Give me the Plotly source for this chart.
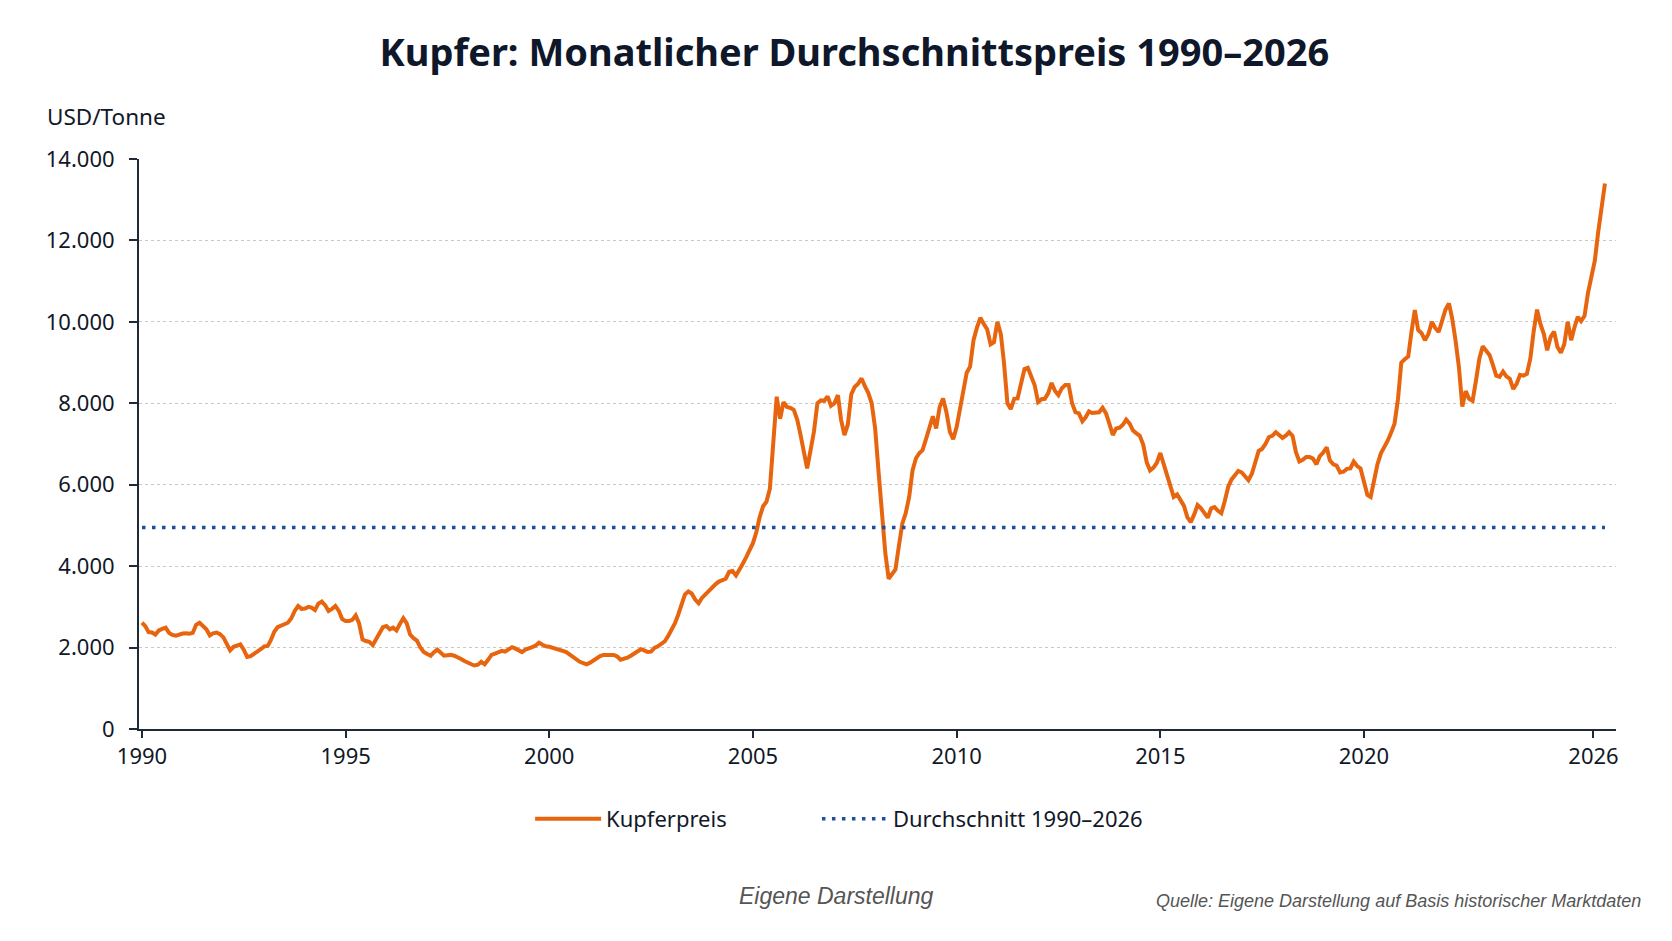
import plotly.graph_objects as go
import pandas as pd

# Monthly average copper price (USD/t)
p_1990s = [
    2610, 2520, 2380, 2370, 2320, 2420, 2460, 2490, 2360, 2310, 2290, 2320,
    2345, 2350, 2340, 2360, 2560, 2610, 2540, 2450, 2300, 2350, 2370, 2330,
    2250, 2080, 1930, 2020, 2060, 2080, 1950, 1770, 1790, 1840, 1900, 1960,
    2030, 2040, 2180, 2390, 2500, 2530, 2560, 2610, 2720, 2900, 3020, 2950,
    2960, 3000, 2980, 2920, 3080, 3130, 3040, 2900, 2950, 3020, 2900, 2700,
    2650, 2650, 2680, 2790, 2600, 2200, 2160, 2140, 2060, 2200, 2380, 2500,
    2530, 2450, 2490, 2420, 2580, 2720, 2600, 2320, 2230, 2170, 2000, 1890,
    1840, 1800, 1880, 1950, 1880, 1800, 1810, 1820, 1800, 1770, 1720, 1670,
    1620, 1590, 1560, 1580, 1650, 1590, 1700, 1820, 1850, 1880, 1920, 1900,
    1960, 2010, 1980, 1920, 1890, 1950, 1970, 2010, 2050, 2120, 2070, 2030,
]
p_2000s = [
    2020, 2000, 1970, 1940, 1920, 1890, 1830, 1750, 1700, 1650, 1620, 1590,
    1630, 1690, 1740, 1790, 1820, 1830, 1820, 1820, 1780, 1700, 1720, 1750,
    1800, 1850, 1900, 1960, 1930, 1890, 1900, 1990, 2030, 2080, 2150, 2280,
    2420, 2600, 2800, 3080, 3300, 3380, 3330, 3180, 3090, 3220, 3310, 3400,
    3500, 3560, 3620, 3670, 3690, 3860, 3880, 3770, 3900, 4060, 4220, 4400,
    4570, 4850, 5200, 5470, 5580, 5900, 7100, 8160, 7620, 8030, 7910, 7890,
    7840, 7600, 7250, 6800, 6400, 6850, 7300, 8000, 8070, 8060, 8170, 7940,
    8000, 8200, 7600, 7220, 7480, 8220, 8400, 8480, 8610, 8420, 8250, 8000,
    7380, 6300, 5240, 4320, 3690, 3810, 3920, 4500, 5050, 5300, 5700, 6350,
    6650, 6780, 6850, 7120, 7420, 7680, 7380, 7900, 8120, 7780, 7300, 7120,
]
p_2010s = [
    7420, 7880, 8400, 8750, 8900, 9550, 9850, 10100, 9950, 9820, 9450, 9500,
    10000, 9700, 9000, 8000, 7860, 8110, 8120, 8480, 8840, 8870, 8660, 8450,
    8030, 8100, 8110, 8250, 8500, 8300, 8200, 8370, 8450, 8450, 8000, 7780,
    7750, 7560, 7650, 7800, 7760, 7770, 7780, 7890, 7750, 7500, 7220, 7380,
    7400, 7480, 7600, 7500, 7330, 7260, 7200, 6980, 6550, 6350, 6420, 6540,
    6780, 6500, 6260, 5950, 5700, 5760, 5640, 5480, 5200, 5080, 5270, 5500,
    5420, 5320, 5190, 5420, 5450, 5360, 5300, 5600, 5950, 6130, 6230, 6340,
    6300, 6180, 6110, 6270, 6550, 6830, 6880, 7000, 7170, 7200, 7290, 7220,
    7150, 7210, 7290, 7200, 6800, 6570, 6610, 6680, 6680, 6640, 6500, 6700,
    6790, 6920, 6600, 6500, 6470, 6300, 6320, 6390, 6400, 6570, 6460, 6400,
]
p_2020s = [
    6100, 5750, 5700, 6100, 6500, 6770, 6920, 7080, 7280, 7500, 8100, 9000,
    9080, 9150, 9730, 10290, 9800, 9720, 9550, 9700, 10000, 9850, 9750, 10050,
    10300, 10450, 10100, 9550, 8900, 7920, 8300, 8110, 8060, 8550, 9100, 9400,
    9280, 9180, 8950, 8680, 8650, 8780, 8660, 8600, 8350, 8480, 8700, 8680,
    8720, 9100, 9750, 10300, 9950, 9700, 9300, 9630, 9760, 9380, 9240, 9450,
    10000, 9550, 9850, 10120, 10020, 10150, 10700, 11050, 11500, 12200, 12850, 13400,
]
durchschnitt = 4950

tick_dates = ["1990-01-01", "1995-01-01", "2000-01-01", "2005-01-01",
              "2010-01-01", "2015-01-01", "2020-01-01", "2025-08-20"]
tick_labels = ["1990", "1995", "2000", "2005", "2010", "2015", "2020", "2026"]

values = p_1990s + p_2000s + p_2010s + p_2020s
dates = pd.date_range("1990-01-01", periods=len(values), freq="MS")

ORANGE = "#e8650f"
BLUE = "#1f4e9c"
DARK = "#111827"
BASE_FONT = "Noto Sans, Open Sans, sans-serif"

fig = go.Figure()
fig.add_trace(go.Scatter(
    x=dates, y=values, mode="lines", name="Kupferpreis", legend="legend",
    line=dict(color=ORANGE, width=4), hoverinfo="skip"))
fig.add_trace(go.Scatter(
    x=[dates[0], dates[-1]], y=[durchschnitt, durchschnitt], mode="lines",
    name="Durchschnitt 1990–2026", legend="legend2",
    line=dict(color=BLUE, width=3.5, dash="3.5px,6.5px"), hoverinfo="skip"))

legend_common = dict(
    orientation="h", xanchor="left", y=-0.158, yanchor="middle",
    itemwidth=66, font=dict(family=BASE_FONT, size=22, color=DARK),
    bgcolor="rgba(0,0,0,0)")

fig.update_layout(
    width=1672, height=941,
    margin=dict(l=139, r=56, t=159, b=212),
    paper_bgcolor="white", plot_bgcolor="white",
    separators=",.",
    font=dict(family=BASE_FONT, size=22, color=DARK),
    title=dict(
        text="<b>Kupfer: Monatlicher Durchschnittspreis 1990–2026</b>",
        x=0.511, xref="container", xanchor="center",
        y=1 - 53 / 941, yref="container", yanchor="middle",
        font=dict(family=BASE_FONT, size=38, color="#0f172a")),
    showlegend=True,
    legend=dict(x=0.2648, **legend_common),
    legend2=dict(x=0.459, **legend_common),
    xaxis=dict(
        type="date", range=["1989-12-05", "2026-03-10"],
        tickmode="array", tickvals=tick_dates, ticktext=tick_labels,
        ticks="outside", ticklen=7, tickwidth=2, tickcolor="#1f2937",
        showline=True, linecolor="#1f2937", linewidth=2,
        showgrid=False, zeroline=False,
        tickfont=dict(family=BASE_FONT, size=22, color=DARK)),
    yaxis=dict(
        range=[0, 14000], dtick=2000, tick0=0, tickformat=",.0f",
        ticks="outside", ticklen=8, tickwidth=2, tickcolor="#1f2937",
        showline=True, linecolor="#1f2937", linewidth=2,
        showgrid=True, gridcolor="#c8c8c8", gridwidth=1, griddash="dot",
        zeroline=False, ticklabelstandoff=10,
        tickfont=dict(family=BASE_FONT, size=22, color=DARK)),
    annotations=[
        dict(text="USD/Tonne", xref="paper", yref="paper", x=-0.0637, y=1.0737,
             xanchor="left", yanchor="middle", showarrow=False,
             font=dict(family=BASE_FONT, size=22.5, color=DARK)),
        dict(text="<i>Eigene Darstellung</i>", xref="paper", yref="paper",
             x=0.472, y=-0.293, xanchor="center", yanchor="middle", showarrow=False,
             font=dict(family="Liberation Sans, Arial, sans-serif", size=23, color="#555555")),
        dict(text="<i>Quelle: Eigene Darstellung auf Basis historischer Marktdaten</i>",
             xref="paper", yref="paper", x=1.0185, y=-0.302, xanchor="right",
             yanchor="middle", showarrow=False,
             font=dict(family="Liberation Sans, Arial, sans-serif", size=18, color="#555555")),
    ],
)

fig.write_html("out.html")
